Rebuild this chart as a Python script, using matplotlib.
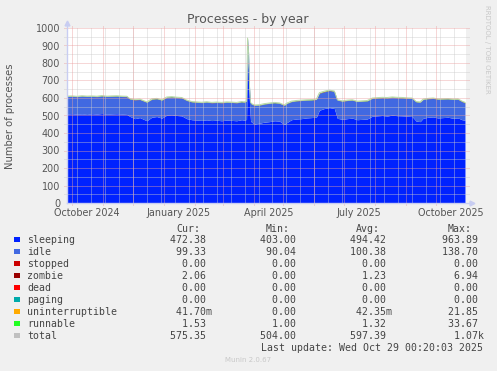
import numpy as np
import matplotlib
matplotlib.use("Agg")
import matplotlib.pyplot as plt
from matplotlib.patches import Rectangle

# Munin "processes" plugin, year view (one point every few days)
start = np.datetime64('2024-09-26')
end = np.datetime64('2025-10-31')

days = [0, 5, 10, 15, 20, 25, 30, 35, 40, 45, 50, 55, 60,
        63, 68, 73, 80, 85, 90, 95,
        100, 105, 110, 115, 120, 125, 130, 135, 140, 145, 150, 155, 160, 165, 170, 175, 178,
        180, 181, 182, 183, 184, 185,
        188, 193, 198, 203, 208, 213, 218, 220,
        225, 230, 235, 240, 245, 250,
        253, 258, 263, 268,
        271, 276, 281, 286, 291, 296, 301,
        306, 311, 316, 321, 326, 331, 336, 341, 346,
        350, 354, 357, 362, 367, 372, 377, 382, 387, 392, 396, 399]

sleeping = [508, 510, 507, 509, 506, 510, 508, 511, 507, 509, 510, 508, 506,
            495, 482, 488, 470, 490, 494, 485,
            502, 504, 500, 498, 482, 476, 474, 472, 475, 471, 473, 470, 474, 472, 470, 476, 473,
            478, 840, 760, 560, 470, 462,
            452, 456, 462, 465, 470, 468, 448, 458,
            476, 480, 482, 486, 488, 490,
            530, 540, 545, 540,
            484, 478, 482, 485, 476, 478, 480,
            496, 498, 500, 497, 502, 499, 498, 496, 494,
            468, 465, 484, 490, 492, 486, 488, 490, 484, 486, 476, 472.4]

idle = [100.4, 99.4, 100.4, 101.4, 102.4, 99.4, 99.4, 100.4, 101.4, 100.4, 100.4, 100.4, 101.4,
        98.4, 107.4, 103.4, 105.4, 102.4, 101.4, 102.4,
        101.4, 101.4, 102.4, 102.4, 103.4, 101.4, 101.4, 101.4, 101.4, 101.4, 101.4, 102.4, 101.4, 102.4, 102.4, 101.4, 102.4,
        104.4, 99.4, 99.4, 97.4, 102.4, 103.4,
        105.4, 103.4, 103.4, 104.4, 102.4, 101.4, 109.4, 109.4,
        103.4, 103.4, 103.4, 101.4, 100.4, 101.4,
        97.4, 95.4, 97.4, 97.4,
        103.4, 103.4, 103.4, 102.4, 103.4, 103.4, 103.4,
        101.4, 101.4, 101.4, 103.4, 101.4, 102.4, 102.4, 102.4, 103.4,
        109.4, 110.4, 107.4, 105.4, 105.4, 106.4, 105.4, 104.4, 107.4, 106.4, 103.4, 99.3]

zombie = [1.1, 1.2, 1.0, 1.3, 1.2, 1.1, 1.4, 1.2, 1.0, 1.3, 1.2, 1.1, 1.2,
          1.5, 1.3, 1.2, 1.1, 1.4, 1.2, 1.0,
          1.2, 1.3, 1.1, 1.2, 1.4, 1.2, 1.1, 1.0, 1.2, 1.3, 1.1, 1.2, 1.2, 1.0, 1.1, 1.3, 1.2,
          1.2, 1.4, 1.3, 1.2, 1.1, 1.2,
          1.3, 1.1, 1.2, 1.0, 1.2, 1.3, 1.4, 1.2,
          1.1, 1.2, 1.3, 1.2, 1.1, 1.0,
          1.6, 2.4, 1.5, 1.3,
          1.2, 1.1, 1.3, 1.2, 1.0, 1.2, 1.1,
          1.2, 1.3, 1.2, 1.1, 1.4, 1.2, 1.3, 1.1, 1.2,
          1.3, 1.2, 1.1, 1.2, 1.3, 1.4, 1.2, 1.1, 1.3, 1.2, 1.5, 2.06]

uninterruptible = [0.04, 0.05, 0.03, 0.04, 0.04, 0.06, 0.04, 0.03, 0.04, 0.05, 0.04, 0.04, 0.04,
                   0.05, 0.04, 0.03, 0.04, 0.04, 0.05, 0.04,
                   0.04, 0.03, 0.04, 0.05, 0.04, 0.04, 0.04, 0.03, 0.04, 0.04, 0.05, 0.04, 0.04, 0.04, 0.03, 0.04, 0.04,
                   0.05, 0.30, 0.12, 0.06, 0.04, 0.04,
                   0.04, 0.05, 0.04, 0.04, 0.03, 0.04, 0.05, 0.04,
                   0.04, 0.04, 0.03, 0.04, 0.05, 0.04,
                   0.05, 0.04, 0.04, 0.05,
                   0.04, 0.03, 0.04, 0.04, 0.05, 0.04, 0.04,
                   0.04, 0.05, 0.04, 0.03, 0.04, 0.04, 0.05, 0.04, 0.04,
                   0.04, 0.05, 0.04, 0.04, 0.03, 0.04, 0.04, 0.05, 0.04, 0.04, 0.04, 0.04]

runnable = [1.3, 1.3, 1.4, 1.2, 1.3, 1.3, 1.4, 1.3, 1.2, 1.3, 1.4, 1.3, 1.3,
            1.3, 1.4, 1.3, 1.2, 1.3, 1.3, 1.4,
            1.3, 1.3, 1.2, 1.3, 1.4, 1.3, 1.3, 1.3, 1.2, 1.3, 1.4, 1.3, 1.3, 1.3, 1.2, 1.3, 1.3,
            1.4, 2.2, 1.8, 1.4, 1.3, 1.3,
            1.3, 1.3, 1.4, 1.3, 1.2, 1.3, 1.3, 1.4,
            1.3, 1.3, 1.2, 1.3, 1.4, 1.3,
            1.4, 1.4, 1.3, 1.3,
            1.3, 1.2, 1.3, 1.4, 1.3, 1.3, 1.3,
            1.3, 1.4, 1.3, 1.3, 1.2, 1.3, 1.4, 1.3, 1.3,
            1.3, 1.3, 1.4, 1.3, 1.3, 1.2, 1.3, 1.3, 1.4, 1.3, 1.3, 1.53]

stopped = [0.0] * len(days)
dead = [0.0] * len(days)
paging = [0.0] * len(days)

names = ['sleeping', 'idle', 'stopped', 'zombie', 'dead', 'paging', 'uninterruptible', 'runnable', 'total']
colors = ['#0022ff', '#4169e1', '#cc0000', '#990000', '#ff0000', '#00aaaa', '#ffaa00', '#22ff22', '#c0c0c0']
cur = ['472.38', '99.33', '0.00', '2.06', '0.00', '0.00', '41.70m', '1.53', '575.35']
mins = ['403.00', '90.04', '0.00', '0.00', '0.00', '0.00', '0.00', '1.00', '504.00']
avgs = ['494.42', '100.38', '0.00', '1.23', '0.00', '0.00', '42.35m', '1.32', '597.39']
maxs = ['963.89', '138.70', '0.00', '6.94', '0.00', '0.00', '21.85', '33.67', '1.07k']

month_starts = ['2024-10-01', '2024-11-01', '2024-12-01', '2025-01-01', '2025-02-01', '2025-03-01',
                '2025-04-01', '2025-05-01', '2025-06-01', '2025-07-01', '2025-08-01', '2025-09-01',
                '2025-10-01']
label_months = [('2024-10-01', '2024-11-01', 'October 2024'), ('2025-01-01', '2025-02-01', 'January 2025'),
                ('2025-04-01', '2025-05-01', 'April 2025'), ('2025-07-01', '2025-08-01', 'July 2025'),
                ('2025-10-01', '2025-11-01', 'October 2025')]

W, H = 497, 371


def px(x, y):
	return x / W, 1 - y / H


fig = plt.figure(figsize=(W / 100, H / 100), dpi=100, facecolor='#f0f0f0')
ax = fig.add_axes([67 / W, 1 - 203 / H, 399 / W, 175 / H])
ax.set_facecolor('white')
for s in ax.spines.values():
	s.set_visible(False)

x = start + np.array(days).astype('timedelta64[D]')
stack = [sleeping, idle, stopped, zombie, dead, paging, uninterruptible, runnable]
base = np.zeros(len(days))
for vals, col in zip(stack, colors[:-1]):
	top = base + np.array(vals, dtype=float)
	ax.fill_between(x, base, top, color=col, linewidth=0, zorder=2)
	base = top
ax.plot(x, base, color='#b8d8a8', lw=0.7, zorder=3)

ax.set_xlim(start, end)
ax.set_ylim(0, 1000)

# grid (drawn over the areas like rrdtool does), slightly extending past the canvas
dx = np.timedelta64(3, 'D')
minor_col = '#cccccc'
major_col = '#eaa0a0'
grid_kw = dict(lw=0.6, dashes=(1.2, 1.2))
for yv in range(50, 1000, 100):
	ax.plot([start - dx, end + dx], [yv, yv], color=minor_col, zorder=4, clip_on=False, **grid_kw)
for yv in range(100, 1001, 100):
	ax.plot([start - dx, end + dx], [yv, yv], color=major_col, zorder=5, clip_on=False, **grid_kw)
wk = np.datetime64('2024-10-06')
while wk < end:
	ax.plot([wk, wk], [0, 1000], color=minor_col, zorder=4, **grid_kw)
	wk = wk + np.timedelta64(14, 'D')
for m in month_starts:
	d = np.datetime64(m)
	ax.plot([d, d], [-14, 1010], color=major_col, zorder=5, clip_on=False, **grid_kw)

# axes with arrows
axis_col = '#c8cdf2'
ax.plot([start, start], [0, 1030], color=axis_col, lw=1, zorder=6, clip_on=False)
ax.plot([start, end + np.timedelta64(6, 'D')], [0, 0], color=axis_col, lw=1, zorder=6, clip_on=False)
ax.plot([start], [1030], marker='^', ms=3.5, color=axis_col, zorder=6, clip_on=False)
ax.plot([end + np.timedelta64(6, 'D')], [0], marker='>', ms=3.5, color=axis_col, zorder=6, clip_on=False)

txt_col = '#555555'
ax.set_yticks(range(0, 1001, 100))
ax.set_yticklabels([str(v) for v in range(0, 1001, 100)])
mids = [np.datetime64(a) + (np.datetime64(b) - np.datetime64(a)) / 2 for a, b, _ in label_months]
ax.set_xticks(mids)
ax.set_xticklabels([l for _, _, l in label_months])
ax.tick_params(axis='y', length=0, pad=5, labelsize=6.9, labelcolor=txt_col)
ax.tick_params(axis='x', length=0, pad=3.5, labelsize=6.9, labelcolor=txt_col)

fig.text(*px(248, 19), 'Processes - by year', ha='center', va='center', fontsize=9, color=txt_col)
fig.text(*px(10, 116), 'Number of processes', ha='center', va='center', rotation=90, fontsize=7.2, color=txt_col)
fig.text(*px(487, 5), 'RRDTOOL / TOBI OETIKER', ha='center', va='top', rotation=270, fontsize=5, color='#c8c8c8')

# legend table
mono = 'DejaVu Sans Mono'
leg_col = '#444444'
fs = 7.15
cols_x = [170, 260, 350, 442]
for hdr, cx in zip(['Cur:', 'Min:', 'Avg:', 'Max:'], cols_x):
	fig.text(*px(cx + 6, 228.5), hdr, family=mono, fontsize=fs, color=leg_col, va='center')


def cell(v):
	if v[-1] in 'mk':
		return '%6s%s' % (v[:-1], v[-1])
	return '%6s ' % v


for i, name in enumerate(names):
	yy = 239.7 + 12 * i
	fig.patches.append(Rectangle(px(14, yy + 2.7), 5.5 / W, 5.5 / H, transform=fig.transFigure,
	                             facecolor=colors[i], edgecolor='none'))
	fig.text(*px(27, yy), name, family=mono, fontsize=fs, color=leg_col, va='center')
	for vals, cx in zip([cur, mins, avgs, maxs], cols_x):
		fig.text(*px(cx, yy), cell(vals[i]), family=mono, fontsize=fs, color=leg_col, va='center')

fig.text(*px(483, 347.7), 'Last update: Wed Oct 29 00:20:03 2025', family=mono, fontsize=fs, color=leg_col,
         va='center', ha='right')
fig.text(*px(248, 360), 'Munin 2.0.67', ha='center', va='center', fontsize=5, color='#c8c8c8')

fig.savefig('out.png', dpi=100, facecolor=fig.get_facecolor())
